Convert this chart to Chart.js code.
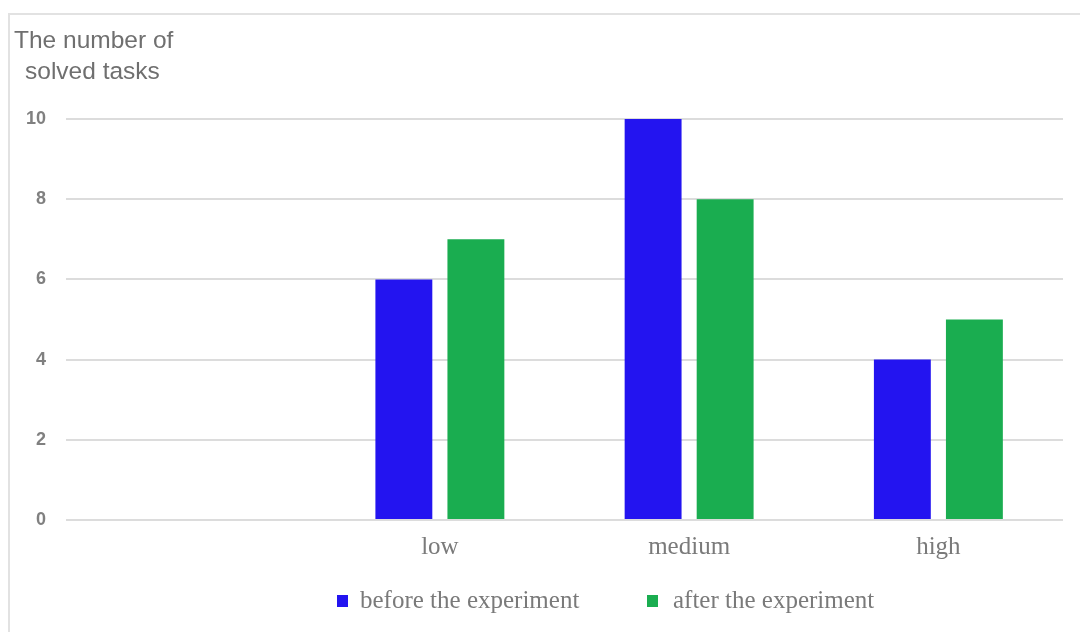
<!DOCTYPE html>
<html>
<head>
<meta charset="utf-8">
<script src="https://cdn.jsdelivr.net/npm/chart.js@4"></script>
<style>
  html, body { margin: 0; padding: 0; background: #fff; }
  #wrap { width: 1080px; height: 632px; }
</style>
</head>
<body>
<div id="wrap"><canvas id="grafico" width="1080" height="632"></canvas></div>
<script>
const categorias = ["", "low", "medium", "high"];
const antes = [null, 6, 10, 4];
const depois = [null, 7, 8, 5];
const yTicks = [0, 2, 4, 6, 8, 10];
const tituloEixo = ["The number of", "solved tasks"];
const nomesSeries = ["before the experiment", "after the experiment"];

const AZUL = "#2314f0";
const VERDE = "#1aad50";

// moldura, título do eixo e legenda desenhados à mão
const extras = {
  id: "extras",
  beforeDraw(chart) {
    const c = chart.ctx;
    c.save();
    c.strokeStyle = "#e2e2e2";
    c.lineWidth = 2;
    c.beginPath();
    c.moveTo(9, 632);
    c.lineTo(9, 14);
    c.lineTo(1080, 14);
    c.stroke();
    c.restore();
  },
  afterDraw(chart) {
    const c = chart.ctx;
    c.save();
    c.fillStyle = "#6f6f6f";
    c.font = '24.5px "Liberation Sans", Arial, sans-serif';
    c.textBaseline = "middle";
    c.fillText(tituloEixo[0], 14, 41);
    c.fillText(tituloEixo[1], 25, 72);

    c.font = '25px "Liberation Serif", "Times New Roman", serif';
    const itens = [
      { box: 337, txt: 360, cor: AZUL },
      { box: 647, txt: 673, cor: VERDE },
    ];
    itens.forEach((it, i) => {
      c.fillStyle = it.cor;
      c.fillRect(it.box, 595, 11, 12);
      c.fillStyle = "#7a7a7a";
      c.fillText(nomesSeries[i], it.txt, 601);
    });
    c.restore();
  },
};

const ctx = document.getElementById("grafico").getContext("2d");
new Chart(ctx, {
  type: "bar",
  data: {
    labels: categorias,
    datasets: [
      {
        label: nomesSeries[0],
        data: antes,
        backgroundColor: AZUL,
        categoryPercentage: 0.578,
        barPercentage: 0.79,
      },
      {
        label: nomesSeries[1],
        data: depois,
        backgroundColor: VERDE,
        categoryPercentage: 0.578,
        barPercentage: 0.79,
      },
    ],
  },
  options: {
    responsive: false,
    animation: false,
    layout: { padding: { top: 119, right: 17, left: 0, bottom: 0 } },
    plugins: {
      legend: { display: false },
      title: { display: false },
      tooltip: { enabled: false },
    },
    scales: {
      x: {
        grid: { display: false },
        border: { display: false },
        ticks: {
          color: "#7a7a7a",
          padding: 4,
          font: { family: '"Liberation Serif", "Times New Roman", serif', size: 25 },
        },
        afterFit(scale) { scale.height = 112; },
      },
      y: {
        min: 0,
        max: 10,
        afterBuildTicks(scale) { scale.ticks = yTicks.map((v) => ({ value: v })); },
        grid: { color: "#dcdcdc", lineWidth: 2, drawTicks: false },
        border: { display: false },
        ticks: {
          color: "#808080",
          padding: 20,
          font: { family: '"Liberation Sans", Arial, sans-serif', size: 18, weight: "bold" },
        },
        afterFit(scale) { scale.width = 66; },
      },
    },
  },
  plugins: [extras],
});
</script>
</body>
</html>
